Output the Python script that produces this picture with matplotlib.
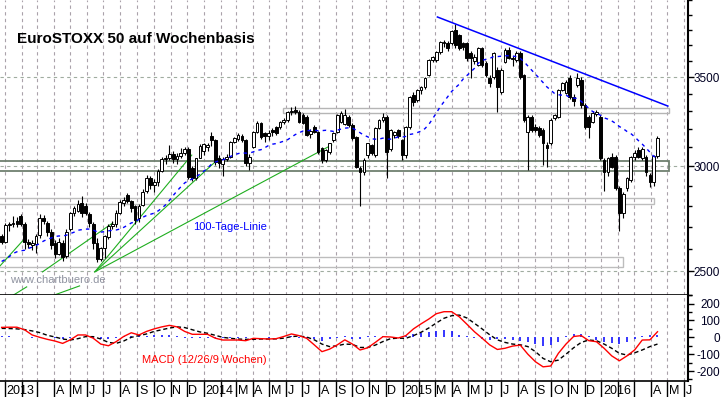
import numpy as np
import pandas as pd
import matplotlib
matplotlib.use("Agg")
import matplotlib.pyplot as plt
import matplotlib.dates as mdates
from matplotlib.patches import Rectangle
from matplotlib.ticker import NullFormatter

plt.rcParams['font.family'] = ['Liberation Sans', 'DejaVu Sans']

# weekly closes before the visible range (Jun - Dec 2012), only used to warm up the moving average
pre_closes = [2070, 2150, 2200, 2160, 2265, 2240, 2240, 2200, 2370, 2440,
              2470, 2520, 2480, 2440, 2560, 2630, 2580, 2455, 2520, 2500,
              2570, 2500, 2530, 2480, 2450, 2575, 2575, 2595, 2620, 2660]

# weekly candles, first week ends 2012-12-28
opens = [2657, 2630, 2708, 2712, 2730, 2752, 2716, 2630, 2615, 2622,
         2662, 2740, 2718, 2677, 2625, 2578, 2628, 2568, 2690, 2765,
         2778, 2815, 2800, 2760, 2715, 2628, 2555, 2602, 2655, 2705,
         2712, 2768, 2815, 2852, 2822, 2800, 2740, 2805, 2872, 2940,
         2905, 2920, 2975, 3035, 3040, 3066, 3035, 3052, 3070, 3092,
         2990, 2938, 3045, 3078, 3100, 3160, 3140, 3045, 3012, 3035,
         3050, 3130, 3145, 3160, 3140, 3015, 3100, 3180, 3230, 3175,
         3160, 3195, 3210, 3210, 3238, 3250, 3292, 3305, 3296, 3280,
         3265, 3170, 3210, 3182, 3095, 3031, 3073, 3138, 3182, 3240,
         3225, 3267, 3221, 3155, 2990, 2968, 3058, 3110, 3058, 3204,
         3250, 3267, 3089, 3165, 3193, 3138, 3058, 3210, 3395, 3366,
         3423, 3440, 3512, 3605, 3605, 3655, 3712, 3712, 3712, 3800,
         3764, 3712, 3712, 3648, 3600, 3573, 3680, 3585, 3494, 3500,
         3543, 3410, 3592, 3667, 3610, 3605, 3648, 3512, 3182, 3267,
         3210, 3204, 3193, 3111, 3120, 3260, 3267, 3423, 3407, 3494,
         3384, 3452, 3482, 3336, 3267, 3240, 3285, 3267, 3031, 2968,
         3050, 3047, 2890, 2766, 2890, 2928, 3047, 3084, 3041, 3047,
         2953, 2918, 3052]
highs = [2668, 2720, 2725, 2752, 2745, 2762, 2722, 2645, 2640, 2668,
         2760, 2755, 2728, 2690, 2640, 2650, 2640, 2690, 2770, 2800,
         2830, 2850, 2815, 2770, 2722, 2650, 2610, 2665, 2715, 2730,
         2780, 2830, 2845, 2862, 2830, 2805, 2812, 2885, 2955, 2948,
         2935, 2985, 3048, 3058, 3112, 3080, 3068, 3098, 3102, 3100,
         3000, 3045, 3115, 3125, 3120, 3182, 3145, 3060, 3050, 3062,
         3135, 3155, 3175, 3172, 3145, 3062, 3186, 3245, 3240, 3182,
         3192, 3205, 3218, 3245, 3260, 3300, 3325, 3328, 3305, 3290,
         3275, 3200, 3220, 3190, 3100, 3090, 3125, 3180, 3285, 3300,
         3310, 3280, 3232, 3160, 3000, 3040, 3125, 3118, 3210, 3255,
         3290, 3275, 3200, 3190, 3200, 3145, 3215, 3390, 3410, 3430,
         3445, 3500, 3610, 3630, 3660, 3725, 3730, 3725, 3800, 3836,
         3770, 3720, 3720, 3660, 3640, 3690, 3690, 3600, 3510, 3655,
         3560, 3555, 3680, 3690, 3630, 3660, 3660, 3520, 3275, 3280,
         3225, 3215, 3205, 3130, 3260, 3285, 3430, 3470, 3480, 3510,
         3400, 3525, 3500, 3345, 3280, 3300, 3305, 3275, 3045, 3050,
         3070, 3060, 2900, 2870, 2945, 3055, 3085, 3100, 3100, 3060,
         2965, 3060, 3160]
lows = [2620, 2625, 2680, 2700, 2700, 2705, 2600, 2605, 2595, 2580,
        2650, 2712, 2660, 2600, 2560, 2570, 2545, 2560, 2680, 2750,
        2770, 2745, 2755, 2700, 2600, 2540, 2545, 2560, 2645, 2690,
        2700, 2760, 2800, 2815, 2770, 2712, 2725, 2800, 2865, 2885,
        2870, 2900, 2970, 3010, 3030, 3015, 3010, 3040, 3060, 2935,
        2925, 2930, 3040, 3060, 3080, 3105, 3005, 2990, 2950, 3025,
        3045, 3125, 3135, 3130, 3000, 2980, 3095, 3175, 3145, 3130,
        3140, 3160, 3165, 3200, 3225, 3240, 3280, 3285, 3230, 3225,
        3160, 3150, 3175, 3065, 3015, 3020, 3065, 3130, 3175, 3235,
        3220, 3210, 3140, 2990, 2800, 2955, 3040, 3060, 3050, 3200,
        3240, 2940, 3080, 3150, 3150, 3030, 3040, 3200, 3330, 3350,
        3400, 3430, 3505, 3590, 3595, 3640, 3690, 3660, 3700, 3680,
        3670, 3670, 3600, 3494, 3580, 3565, 3560, 3500, 3440, 3490,
        3296, 3400, 3585, 3610, 3570, 3590, 3490, 3240, 2979, 3180,
        3180, 3155, 3005, 2995, 3110, 3250, 3260, 3415, 3400, 3370,
        3330, 3440, 3320, 3200, 3150, 3230, 3270, 3030, 2876, 2950,
        2990, 2880, 2680, 2740, 2875, 2920, 3030, 3040, 3030, 2950,
        2895, 2900, 3045]
closes = [2630, 2710, 2715, 2720, 2714, 2716, 2632, 2622, 2628, 2660,
          2742, 2728, 2677, 2615, 2578, 2630, 2565, 2678, 2764, 2790,
          2812, 2768, 2765, 2718, 2628, 2555, 2602, 2658, 2705, 2712,
          2768, 2818, 2830, 2822, 2790, 2735, 2800, 2870, 2940, 2905,
          2920, 2975, 3035, 3042, 3066, 3035, 3055, 3068, 3092, 2945,
          2938, 3040, 3105, 3115, 3110, 3138, 3022, 3015, 3035, 3050,
          3130, 3148, 3165, 3140, 3015, 3047, 3180, 3235, 3155, 3160,
          3178, 3180, 3176, 3238, 3248, 3294, 3300, 3292, 3240, 3235,
          3168, 3190, 3185, 3073, 3031, 3084, 3120, 3176, 3279, 3290,
          3279, 3221, 3149, 2995, 2968, 3031, 3120, 3070, 3204, 3250,
          3267, 3073, 3193, 3182, 3160, 3058, 3210, 3384, 3352, 3423,
          3440, 3494, 3605, 3623, 3655, 3719, 3719, 3680, 3790, 3700,
          3680, 3690, 3617, 3617, 3623, 3680, 3573, 3512, 3464, 3648,
          3440, 3543, 3667, 3617, 3620, 3650, 3500, 3250, 3267, 3193,
          3193, 3165, 3120, 3095, 3250, 3275, 3423, 3464, 3470, 3384,
          3360, 3494, 3336, 3210, 3210, 3290, 3296, 3041, 2968, 3041,
          2995, 2890, 2766, 2860, 2938, 3047, 3067, 3047, 3090, 2968,
          2918, 3052, 3150]

# MACD (12/26/9), every second week
macd_weeks = list(range(0, 173, 2))
macd_vals = [59, 60, 60, 45, 14, 0, -12, -22, -36, -15,
             14, 14, -5, -40, -50, -26, 5, 27, 14, 35,
             50, 62, 71, 62, 35, 18, 18, 18, -5, -16,
             -16, -16, -20, -6, -8, -10, -8, 5, 20, 10,
             -6, -45, -85, -70, -45, -15, -40, -75, -62, -30,
             4, 2, -4, 10, 50, 80, 108, 140, 152, 152,
             122, 78, 33, -5, -45, -72, -65, -52, -46, -100,
             -145, -175, -170, -95, -40, 5, 10, -20, -26, -65,
             -110, -139, -110, -75, -16, -15, 33]
signal_vals = [53, 52, 50, 46, 38, 28, 12, 2, -10, -16,
               -8, 4, 4, -10, -30, -36, -22, 0, 10, 20,
               35, 45, 55, 62, 58, 45, 32, 24, 12, 0,
               -6, -10, -12, -12, -10, -10, -9, -5, 4, 8,
               2, -15, -40, -55, -50, -40, -42, -60, -60, -46,
               -25, -8, -5, -6, 10, 30, 55, 85, 113, 128,
               132, 115, 83, 50, 15, -15, -30, -40, -44, -55,
               -85, -125, -145, -135, -100, -62, -30, -16, -20, -40,
               -65, -95, -105, -92, -75, -55, -40]
hist_vals = [5, 5, 4, 2, -3, -2, 2, -6, -8, -5,
             3, 4, -4, -8, -10, -6, 6, 10, 8, 10,
             12, 14, 12, 6, -4, -6, -3, -2, -5, -6,
             -4, -4, -3, 2, 1, -2, 2, 4, 5, -3,
             -6, -12, -20, -12, -5, 6, -10, -8, 5, 8,
             10, 4, 2, 8, 18, 25, 30, 38, 45, 40,
             15, 6, -6, -12, -15, -12, -10, -15, -20, -30,
             -40, -50, -45, -30, 10, 18, 20, 5, -15, -25,
             -35, -40, -30, -10, 8, 12, 15]

# trend line, fan lines and zones
trend_dates = ['2015-03-06', '2016-05-02']
trend_prices = [3884, 3329]
fan_lines = [
    (['2012-12-23', '2013-02-04'], [2524, 2640]),
    (['2013-03-11', '2013-07-18'], [2498, 2719]),
    (['2013-06-15', '2013-12-10'], [2498, 3058]),
    (['2013-06-19', '2014-01-30'], [2506, 3043]),
    (['2013-06-15', '2014-08-24'], [2498, 3112]),
    (['2013-01-14', '2013-02-10'], [2396, 2434]),
    (['2013-03-28', '2013-05-18'], [2396, 2438]),
]
zones = [
    ('2014-05-26', '2016-05-04', 3290, 3317, '#b5b5b5', 1.0),
    ('2012-11-01', '2016-05-04', 2974, 3026, '#6f806f', 1.3),
    ('2012-11-01', '2016-04-07', 2808, 2838, '#bdbdbd', 1.0),
    ('2012-11-01', '2016-02-10', 2518, 2562, '#bdbdbd', 1.0),
]

month_labels = ['2013', '', '', 'A', 'M', 'J', 'J', 'A', 'S', 'O', 'N', 'D',
                '2014', '', 'M', 'A', 'M', 'J', 'J', 'A', 'S', 'O', 'N', 'D',
                '2015', '', 'M', 'A', 'M', 'J', 'J', 'A', 'S', 'O', 'N', 'D',
                '2016', '', '', 'A', 'M', 'J']

# 20-week (100-day) moving average
allc = pd.Series(pre_closes + closes, dtype=float)
ma = allc.rolling(20).mean().values[len(pre_closes):]

weeks = pd.date_range('2012-12-28', periods=len(closes), freq='7D')
xc = mdates.date2num(weeks - pd.Timedelta(days=2))
xm = xc[macd_weeks]
months = pd.date_range('2013-01-01', periods=len(month_labels), freq='MS')
mx = mdates.date2num(months)
xlo = mdates.date2num(pd.Timestamp('2012-12-23'))
xhi = mdates.date2num(pd.Timestamp('2016-06-08'))

fig = plt.figure(figsize=(7.23, 3.97), dpi=100)
ax = fig.add_axes([0, 1 - 295 / 397, 688 / 723, 295 / 397])
ax2 = fig.add_axes([0, 16 / 397, 688 / 723, 86 / 397])

gridc = '#aaa2aa'
dash = (0, (3, 3))

# ---- main panel
ax.set_yscale('log')
ax.set_ylim(2400, 4000)
ax.set_xlim(xlo, xhi)
ax.set_axisbelow(True)
ax.set_xticks(mx)
ax.tick_params(axis='x', length=0, labelbottom=False)
ax.grid(axis='x', color=gridc, ls=dash, lw=0.8)

ax.yaxis.tick_right()
ax.set_yticks([2500, 3000, 3500], labels=['2500', '3000', '3500'])
ax.set_yticks(list(range(2400, 4001, 100)), minor=True)
ax.yaxis.set_minor_formatter(NullFormatter())
ax.grid(axis='y', which='major', color='#a0aca0', ls=dash, lw=0.8)
ax.tick_params(axis='y', which='major', direction='out', length=4, width=1, pad=19, labelsize=8.5, labelcolor='#000022')
ax.tick_params(axis='y', which='minor', direction='out', length=3, width=1)
for lab in ax.get_yticklabels():
    lab.set_horizontalalignment('right')

for s in ['top', 'left']:
    ax.spines[s].set_visible(False)
ax.spines['right'].set_linewidth(1.5)
ax.spines['bottom'].set_linewidth(1.2)

for d0, d1, p0, p1, col, lw in zones:
    a = mdates.date2num(pd.Timestamp(d0))
    b = mdates.date2num(pd.Timestamp(d1))
    ax.add_patch(Rectangle((a, p0), b - a, p1 - p0, fill=False, ec=col, lw=lw, zorder=1.5))

for ds, ps in fan_lines:
    ax.plot(mdates.date2num(pd.to_datetime(ds)), ps, color='#1fae1f', lw=0.8, zorder=2)

# candles
up = np.array(closes) >= np.array(opens)
ax.vlines(xc, lows, highs, color='black', lw=0.8, zorder=3)
bottoms = np.minimum(opens, closes)
heights = np.maximum(np.abs(np.array(closes) - np.array(opens)), 2)
ax.bar(xc, heights, bottom=bottoms, width=5, color=np.where(up, 'white', 'black'),
       edgecolor='black', lw=0.7, zorder=4)

ax.plot(xc, ma, color='#0000ff', lw=1, ls=(0, (2.5, 3)), zorder=5)
ax.plot(mdates.date2num(pd.to_datetime(trend_dates)), trend_prices, color='#0000ff', lw=1.1, zorder=5)

ax.text(17 / 688, 1 - 43 / 295, 'EuroSTOXX 50 auf Wochenbasis', transform=ax.transAxes,
        fontsize=11, fontweight='bold', color='black', va='baseline', ha='left')
ax.text(193 / 688, 1 - 230 / 295, '100-Tage-Linie', transform=ax.transAxes,
        fontsize=8, color='#0000ff', va='baseline', ha='left')
ax.text(10 / 688, 1 - 283 / 295, 'www.chartbuero.de', transform=ax.transAxes,
        fontsize=8, color='#8f93a0', va='baseline', ha='left')

# ---- MACD panel
ax2.set_xlim(xlo, xhi)
ax2.set_ylim(-259, 251)
ax2.set_axisbelow(True)
ax2.vlines(xm, 0, hist_vals, color='#0000ff', lw=1.1, zorder=2)
ax2.plot(xm, signal_vals, color='black', lw=1, ls=(0, (3, 2)), zorder=3)
ax2.plot(xm, macd_vals, color='#ff0000', lw=1, zorder=4)

ax2.set_xticks(mx)
ax2.tick_params(axis='x', direction='out', length=11.5, width=1, color='black', labelbottom=False)
ax2.grid(axis='x', color=gridc, ls=dash, lw=0.8)
for x, lab in zip(mx, month_labels):
    ax2.text(x + 3, -10.5 / 86, lab, transform=ax2.get_xaxis_transform(),
             fontsize=9, va='center', ha='left', color='black')

ax2.yaxis.tick_right()
ax2.set_yticks([-200, -100, 0, 100, 200], labels=['-200', '-100', '0', '100', '200'])
ax2.set_yticks(list(range(-250, 251, 50)), minor=True)
ax2.yaxis.set_minor_formatter(NullFormatter())
ax2.tick_params(axis='y', which='major', direction='out', length=4, width=1, pad=19, labelsize=8.5, labelcolor='#000022')
ax2.tick_params(axis='y', which='minor', direction='out', length=3, width=1)
for lab in ax2.get_yticklabels():
    lab.set_horizontalalignment('right')
for s in ['top', 'left']:
    ax2.spines[s].set_visible(False)
ax2.spines['right'].set_linewidth(1.5)
ax2.spines['bottom'].set_linewidth(1.2)

ax2.text(142 / 688, 1 - (363 - 295) / 86, 'MACD (12/26/9 Wochen)', transform=ax2.transAxes,
         fontsize=8, color='#ff0000', va='baseline', ha='left')

fig.savefig('out.png', dpi=100)
